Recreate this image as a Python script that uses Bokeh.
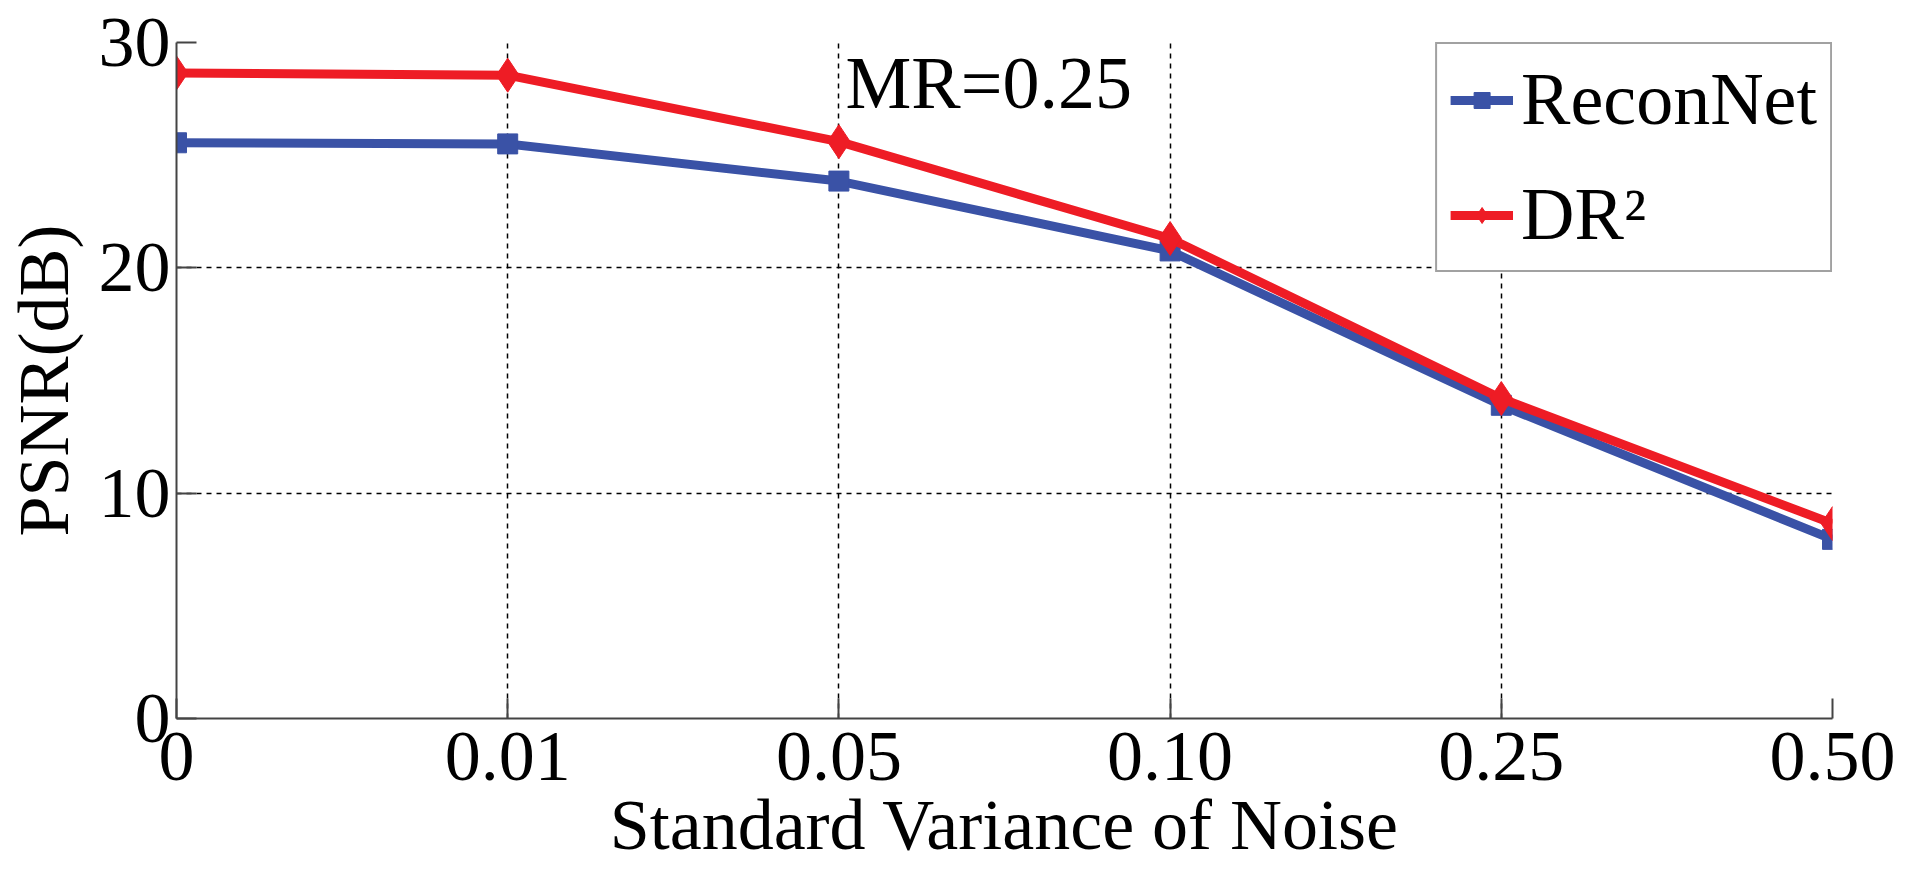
from bokeh.plotting import figure
from bokeh.models import FixedTicker, Legend, LegendItem, Label
from bokeh.embed import file_html
from bokeh.resources import INLINE

noise_labels = ["0", "0.01", "0.05", "0.10", "0.25", "0.50"]
reconnet = [25.55, 25.5, 23.85, 20.75, 13.9, 7.95]
dr2 = [28.65, 28.55, 25.6, 21.3, 14.2, 8.65]
y_ticks = [0, 10, 20, 30]

BLUE = "#3a52a6"
RED = "#ee1c25"
FONT = "Liberation Serif"
FS = "72px"

xs = list(range(len(noise_labels)))

p = figure(width=1919, height=890, output_backend="svg", toolbar_location=None,
           x_range=(0, len(noise_labels) - 1), y_range=(0, 30),
           min_border_left=175, min_border_right=87, min_border_top=42, min_border_bottom=172)
p.outline_line_color = None
p.background_fill_color = "white"

l1 = p.line(xs, reconnet, line_color=BLUE, line_width=9)
m1 = p.scatter(xs, reconnet, marker="square", size=20, fill_color=BLUE, line_color=BLUE)
l2 = p.line(xs, dr2, line_color=RED, line_width=9)
m2 = p.scatter(xs, dr2, marker="diamond", size=34, fill_color=RED, line_color=RED)

p.xaxis.ticker = FixedTicker(ticks=xs)
p.xaxis.major_label_overrides = {i: s for i, s in enumerate(noise_labels)}
p.yaxis.ticker = FixedTicker(ticks=y_ticks)

for ax in (p.xaxis, p.yaxis):
    ax.major_label_text_font = FONT
    ax.major_label_text_font_size = FS
    ax.major_label_text_color = "black"
    ax.axis_label_text_font = FONT
    ax.axis_label_text_font_size = FS
    ax.axis_label_text_font_style = "normal"
    ax.axis_label_text_color = "black"
    ax.axis_line_color = "#444444"
    ax.axis_line_width = 2
    ax.major_tick_line_color = "#444444"
    ax.major_tick_line_width = 2
    ax.major_tick_in = 20
    ax.major_tick_out = 0
    ax.minor_tick_line_color = None

p.xaxis.major_label_standoff = 14
p.yaxis.major_label_standoff = 6
p.xaxis.axis_label = "Standard Variance of Noise"
p.yaxis.axis_label = "PSNR(dB)"
p.xaxis.axis_label_standoff = 2
p.yaxis.axis_label_standoff = 12

p.xgrid.grid_line_color = "black"
p.ygrid.grid_line_color = "black"
p.xgrid.grid_line_dash = "5 5"
p.ygrid.grid_line_dash = "5 5"
p.xgrid.grid_line_width = 1.5
p.ygrid.grid_line_width = 1.5

p.add_layout(Label(x=2.02, y=28.2, text="MR=0.25", text_font=FONT, text_font_size="74px",
                   text_color="black", text_baseline="alphabetic"))

legend = Legend(items=[LegendItem(label="ReconNet", renderers=[l1, m1]),
                       LegendItem(label="DR\u00b2", renderers=[l2, m2])],
                location="top_right", margin=0, padding=13, spacing=30,
                label_text_font=FONT, label_text_font_size="74px",
                label_text_color="black", glyph_width=63, glyph_height=40,
                border_line_color="#444444", border_line_width=2,
                background_fill_color="white", background_fill_alpha=1.0,
                label_standoff=8)
p.add_layout(legend)

open("out.html", "w").write(file_html(p, INLINE))
